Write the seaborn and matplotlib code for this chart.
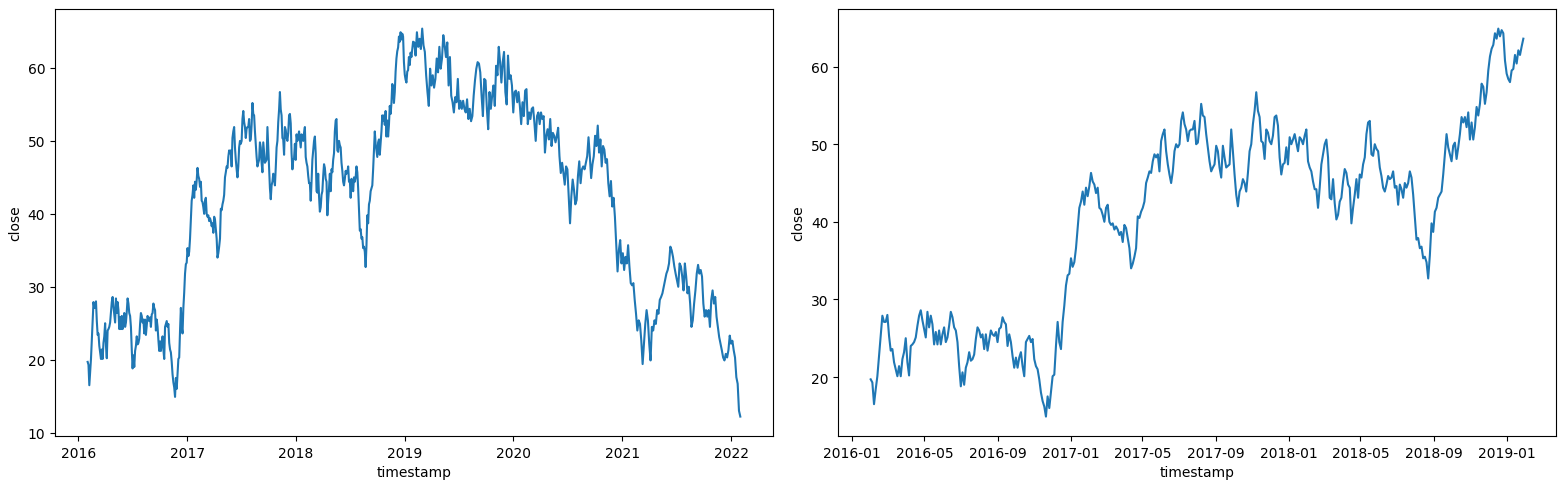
import pandas as pd
import seaborn as sns
import matplotlib.pyplot as plt

# Closing prices, Feb 2016 -> end of Jan 2019 (evenly spaced samples)
close_2016_2019 = [
    19.7, 19.3, 16.5, 18.4, 20.1, 22.7, 25.3, 27.9, 27.1, 27.1, 28.0, 25.3, 23.4, 23.6, 21.9, 21.0,
    20.1, 21.4, 20.1, 22.3, 23.2, 25.0, 21.9, 20.2, 24.0, 24.2, 24.5, 25.1, 26.6, 27.9, 28.6, 27.3,
    26.2, 25.1, 28.4, 26.4, 27.9, 26.8, 24.2, 25.8, 24.2, 26.0, 24.2, 25.5, 26.4, 24.5, 25.1, 26.6,
    28.4, 27.7, 26.4, 26.0, 24.5, 21.4, 18.8, 20.6, 19.0, 21.2, 21.9, 23.2, 22.1, 22.3, 22.9, 24.9,
    26.4, 26.0, 25.1, 25.5, 23.6, 25.5, 23.4, 24.7, 26.0, 25.5, 25.3, 25.8, 24.5, 26.2, 26.4, 27.7,
    27.1, 26.8, 24.0, 25.5, 24.5, 22.7, 21.2, 22.5, 21.2, 22.5, 23.2, 21.4, 20.1, 24.5, 24.9, 25.3,
    24.5, 24.9, 22.3, 21.4, 21.0, 19.7, 18.0, 16.9, 16.2, 14.9, 17.5, 16.0, 18.0, 20.1, 20.3, 24.0,
    27.1, 24.5, 23.6, 27.1, 29.2, 31.8, 33.1, 33.3, 35.3, 34.2, 34.8, 36.6,
    # 2017
    39.2, 41.8, 42.6, 43.9, 42.2, 44.4, 43.3, 44.6, 46.3, 45.2, 44.8, 43.7, 44.4, 41.8, 41.6, 40.9,
    40.0, 41.8, 42.2, 40.0, 39.6, 39.8, 39.0, 39.4, 39.0, 38.3, 38.7, 37.4, 39.6, 39.2, 37.9, 36.6,
    34.0, 34.6, 35.5, 36.6, 40.7, 40.5, 41.3, 41.8, 42.6, 45.0, 45.7, 46.5, 46.3, 47.8, 48.7, 48.3,
    48.7, 46.5, 50.4, 51.3, 51.9, 49.1, 47.4, 46.1, 45.0, 46.5, 49.1, 50.0, 49.6, 50.0, 53.0, 54.1,
    52.6, 51.9, 50.4, 51.7, 51.9, 51.9, 53.0, 50.0, 50.2, 52.2, 55.2, 53.7, 53.5, 51.3, 49.6, 47.8,
    46.5, 47.0, 47.4, 49.8, 49.1, 47.0, 45.7, 49.8, 48.3, 47.0, 47.2, 47.4, 51.9, 49.1, 46.1, 43.5,
    42.0, 43.9, 44.4, 45.5, 45.0, 43.9, 46.3, 49.1, 50.0, 52.6, 54.3, 56.7, 54.3, 53.5, 50.4, 50.2,
    48.1, 51.9, 51.5, 50.4, 50.0, 51.1, 53.5, 53.7, 52.4, 48.3, 46.1, 47.4, 47.6, 49.6, 47.4, 50.9,
    50.0, 50.6, 51.3, 50.2, 49.1, 50.9, 50.6, 50.0, 51.1, 51.9, 47.8, 47.0, 46.5, 45.2, 44.2, 44.2,
    # 2018
    41.8, 44.4, 47.4, 48.7, 50.0, 50.6, 48.3, 43.1, 42.9, 45.5, 42.4, 40.3, 40.9, 42.6, 43.1, 45.2,
    46.8, 46.3, 44.8, 44.4, 39.8, 41.8, 43.5, 45.5, 43.1, 46.1, 45.7, 47.4, 48.3, 51.3, 52.8, 53.0,
    48.7, 48.5, 50.0, 49.4, 49.1, 47.0, 45.9, 44.4, 43.9, 44.8, 45.9, 45.5, 45.7, 46.5, 44.4, 44.6,
    42.2, 44.8, 44.2, 43.1, 45.0, 44.4, 45.0, 46.5, 45.7, 43.5, 40.5, 37.7, 37.9, 36.6, 36.8, 35.3,
    35.5, 34.8, 32.7, 35.7, 39.8, 38.7, 41.3, 41.8, 43.1, 43.5, 43.9, 46.1, 48.7, 51.3, 49.6, 48.7,
    47.8, 49.8, 50.2, 48.1, 49.6, 51.3, 53.5, 52.8, 53.5, 52.2, 54.1, 50.6, 52.8, 50.6, 52.2, 54.8,
    53.7, 55.2, 57.8, 57.4, 55.2, 56.7, 59.5, 61.3, 62.3, 62.8, 64.3, 63.6, 64.9, 63.9, 64.7, 64.3,
    60.8, 59.1, 58.4, 58.0, 59.5, 59.7, 61.5, 60.4, 62.1, 61.5, 62.6, 63.6,
]

# Closing prices, Feb 2019 -> Feb 2022
close_2019_2022 = [
    63.5, 61.7, 64.9, 62.9, 64.0, 62.6, 65.4, 63.1, 62.2, 59.0, 56.7, 54.8, 59.9, 57.6, 59.0, 57.3,
    58.5, 61.3, 59.4, 62.9, 59.9, 61.3, 64.5, 63.1, 61.5, 63.5, 57.6, 61.5, 56.2, 55.3, 53.9, 56.0,
    55.3, 58.5, 54.4, 55.5, 54.4, 55.5, 54.4, 53.9, 55.7, 53.0, 54.4, 52.7, 53.4, 56.2, 58.3, 59.9,
    60.8, 60.6, 59.4, 56.2, 53.4, 58.5, 58.3, 54.4, 51.6, 56.7, 54.4, 56.2, 57.6, 54.8, 60.3, 59.0,
    62.9, 60.8, 58.0, 60.8, 62.2, 56.7, 55.0, 61.7, 58.5, 59.0, 57.6, 53.9, 56.7, 56.9, 55.3, 56.7,
    54.8, 52.3, 55.3, 53.4, 56.9, 57.1, 52.3, 53.9, 53.0, 54.4, 54.6, 52.5, 50.0, 53.4, 53.9, 52.3,
    53.9, 53.0, 53.4, 48.4, 50.7, 51.6, 50.2, 53.0, 49.3, 51.1, 50.7, 49.8, 50.7, 51.8, 47.9, 45.6,
    47.0, 45.6, 44.0, 46.5, 46.1, 42.4, 38.7, 42.4, 44.7, 43.3, 41.3, 41.9, 45.2, 47.2, 44.2, 46.1,
    46.5, 46.1, 47.0, 47.9, 50.5, 47.9, 44.9, 46.8, 47.9,
    # late 2020 onwards
    50.7, 49.3, 52.1, 48.4, 50.2, 46.5, 49.3, 48.8, 47.0, 47.5, 44.2, 42.4, 44.5, 41.0, 42.2, 39.6,
    36.0, 32.1, 35.0, 36.4, 33.2, 34.6, 32.3, 34.1, 33.2, 35.7, 32.8, 30.5, 30.2, 30.5, 28.2, 26.3,
    24.0, 25.4, 24.9, 22.6, 19.4, 22.2, 24.9, 26.8, 25.4, 22.2, 19.9, 24.5, 24.0, 25.4, 24.9, 26.8,
    26.3, 28.2, 28.6, 29.1, 30.0, 30.9, 31.8, 32.3, 33.2, 35.5, 35.0, 34.1, 32.8, 31.8, 30.9, 30.0,
    33.2, 32.8, 31.4, 29.5, 33.2, 31.4, 29.1, 30.0, 27.7, 24.5, 25.4, 27.7, 29.5, 31.8, 33.0, 31.8,
    32.3, 31.4, 27.7, 25.9, 26.8, 25.9, 26.8, 24.5, 28.2, 29.5, 27.7, 28.6, 25.9, 24.5, 23.1, 22.2,
    21.3, 20.3, 19.9, 20.8, 20.3, 21.3, 23.3, 22.2, 22.6, 21.3, 20.3, 17.6, 16.7, 13.0, 12.2,
]

timestamps = pd.date_range('2016-02-01', '2019-01-29', periods=len(close_2016_2019)).append(
    pd.date_range('2019-02-02', '2022-02-01', periods=len(close_2019_2022)))

df = pd.DataFrame({'timestamp': timestamps, 'close': close_2016_2019 + close_2019_2022})

# first half of the data (training period)
train = df[df['timestamp'] < '2019-02-01']

fig, axes = plt.subplots(1, 2, figsize=(15.63, 4.85))

sns.lineplot(x='timestamp', y='close', data=df, ax=axes[0])
sns.lineplot(x='timestamp', y='close', data=train, ax=axes[1])

fig.subplots_adjust(left=0.0352, right=0.9955, top=0.979, bottom=0.099, wspace=0.0907)
plt.savefig('out.png', dpi=100)
